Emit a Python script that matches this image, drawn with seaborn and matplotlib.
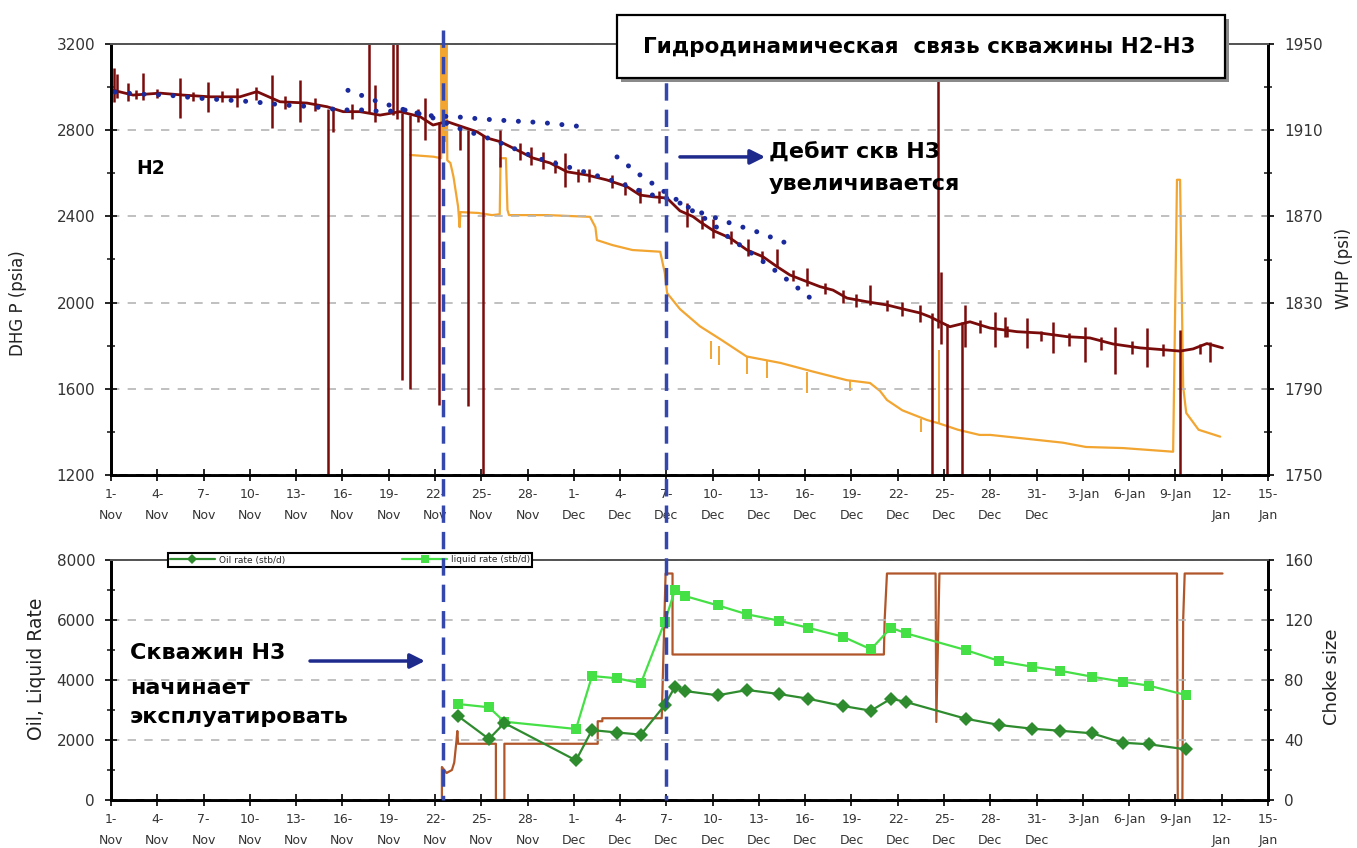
import matplotlib
matplotlib.use("Agg")
import matplotlib.pyplot as plt
import matplotlib.transforms as mtransforms
from matplotlib.lines import Line2D
from matplotlib.patches import Rectangle
import seaborn as sns

# ---------------- time axis (days since 1-Nov) ----------------
tick_days = list(range(0, 76, 3))
tick_labels = ["1-\nNov", "4-\nNov", "7-\nNov", "10-\nNov", "13-\nNov", "16-\nNov",
               "19-\nNov", "22-\nNov", "25-\nNov", "28-\nNov", "1-\nDec", "4-\nDec",
               "7-\nDec", "10-\nDec", "13-\nDec", "16-\nDec", "19-\nDec", "22-\nDec",
               "25-\nDec", "28-\nDec", "31-\nDec", "3-Jan", "6-Jan", "9-Jan",
               "12-\nJan", "15-\nJan"]

# ---------------- H2 downhole gauge pressure (psia) ----------------
dhg_day = [0.05, 1.43, 3.18, 4.67, 6.42, 8.36, 9.46, 10.95, 12.7, 14.0, 15.05, 16.14,
           17.44, 18.73, 20.03, 20.87, 21.78, 22.43, 23.72, 24.37, 25.22, 26.32, 27.35,
           28.46, 29.56, 30.86, 32.15, 33.45, 34.29, 35.13, 36.04, 36.88, 37.73, 38.18,
           39.02, 40.12, 41.23, 42.26, 43.17, 44.01, 45.12, 45.96, 46.8, 47.71, 49.0,
           50.3, 51.6, 52.44, 53.09, 54.38, 55.68, 56.98, 58.73, 60.22, 61.97, 63.46,
           64.95, 66.7, 68.45, 69.3, 70.14, 71.04, 72.05]
dhg_psia = [2987, 2963, 2972, 2963, 2955, 2955, 2979, 2932, 2926, 2909, 2886, 2886,
            2870, 2886, 2863, 2824, 2840, 2824, 2793, 2764, 2747, 2708, 2671, 2648,
            2607, 2592, 2569, 2538, 2499, 2491, 2485, 2426, 2399, 2375, 2335, 2300,
            2244, 2213, 2167, 2128, 2097, 2074, 2058, 2021, 2004, 1989, 1966, 1952,
            1934, 1888, 1911, 1882, 1865, 1859, 1842, 1836, 1808, 1790, 1780, 1775,
            1785, 1810, 1790]
# short gauge excursions: day, low, high (psia)
dhg_spike_day = [0.19, 0.39, 1.1, 1.6, 2.07, 3.0, 4.47, 5.3, 6.29, 7.2, 8.17, 9.4,
                 10.44, 11.3, 12.25, 13.2, 14.07, 14.39, 15.6, 16.72, 17.11, 18.28,
                 18.54, 18.86, 19.38, 19.9, 20.35, 21.26, 22.62, 23.14, 24.11, 25.22,
                 26.5, 27.2, 28.0, 28.8, 29.43, 30.3, 31.0, 32.5, 33.3, 34.29, 35.5,
                 37.34, 38.3, 39.02, 40.2, 41.29, 42.2, 43.17, 44.2, 45.12, 46.3,
                 47.45, 48.3, 49.2, 50.3, 51.27, 52.44, 53.22, 53.61, 53.8, 54.19,
                 55.16, 55.36, 56.3, 57.3, 57.95, 58.1, 59.38, 60.3, 61.06, 62.1,
                 63.14, 64.2, 65.08, 66.2, 67.16, 68.2, 69.31, 70.6, 71.24]
dhg_spike_low = [2930, 2950, 2935, 2945, 2940, 2950, 2857, 2935, 2884, 2930, 2908,
                 2940, 2810, 2900, 2838, 2890, 1200, 2792, 2850, 2880, 2840, 2870,
                 2850, 1640, 1600, 2840, 2755, 1525, 2708, 1520, 1200, 2629,
                 2660, 2640, 2620, 2600, 2536, 2560, 2560, 2530, 2500, 2460, 2460,
                 2350, 2340, 2300, 2270, 2218, 2190, 2165, 2100, 2075, 2040,
                 2000, 1980, 1990, 1960, 1940, 1910, 1200, 1880, 1810, 1200,
                 1200, 1796, 1860, 1796, 1840, 1840, 1791, 1820, 1768, 1800,
                 1726, 1780, 1670, 1760, 1703, 1750, 1200, 1760, 1724]
dhg_spike_high = [3090, 3060, 3020, 2985, 3065, 2990, 3042, 2975, 3024, 2980, 2996,
                  3000, 3056, 2960, 3033, 2950, 2900, 2908, 2920, 3200, 3010, 3200,
                  3200, 2880, 2870, 2900, 2950, 2840, 2815, 2800, 2780, 2800,
                  2740, 2720, 2700, 2660, 2694, 2620, 2620, 2590, 2560, 2530, 2520,
                  2460, 2400, 2390, 2330, 2296, 2240, 2250, 2150, 2160, 2090,
                  2060, 2040, 2080, 2010, 2005, 1990, 1950, 3150, 2140, 1900,
                  1910, 1990, 1920, 1957, 1933, 1890, 1929, 1870, 1910, 1860,
                  1887, 1840, 1887, 1820, 1882, 1810, 1875, 1810, 1817]

# ---------------- pressure trend dots (psia) ----------------
trend_a_day = [0.26, 1.69, 3.63, 5.57, 7.52, 9.2, 11.15, 13.1, 14.84, 16.6, 17.6, 19.2,
               20.87, 22.49, 24.37, 25.86, 27.6, 29.56, 31.37, 33.0, 34.8, 36.56,
               38.96, 39.65, 41.23, 42.72, 44.2, 45.63]
trend_a_psia = [2977, 2968, 2963, 2949, 2940, 2932, 2917, 2909, 2894, 2894, 2886, 2894,
                2857, 2810, 2765, 2723, 2671, 2631, 2592, 2555, 2504, 2476,
                2370, 2323, 2244, 2167, 2086, 2004]
trend_b_day = [15.36, 16.3, 17.2, 18.1, 19.0, 20.5, 22.4, 24.0, 26.0, 28.0, 30.73]
trend_b_psia = [2985, 2960, 2935, 2915, 2895, 2868, 2862, 2852, 2843, 2835, 2815]
trend_c_day = [32.8, 34.3, 35.9, 37.5, 38.3, 40.1, 41.9, 43.6, 44.47]
trend_c_psia = [2676, 2592, 2513, 2439, 2416, 2370, 2328, 2281, 2258]

# ---------------- wellhead pressure (psi) ----------------
whp_day = [19.4, 20.9, 21.4, 21.42, 21.5, 21.58, 21.66, 21.74, 21.8, 22.0, 22.2, 22.5,
           22.6, 22.65, 23.8, 24.7, 25.2, 25.25, 25.6, 25.7, 25.8, 28.3, 31.05, 31.4,
           31.5, 32.5, 33.8, 35.6, 35.9, 36.05, 36.88, 38.18, 39.5, 41.2, 43.4, 45.5,
           47.7, 49.2, 49.85, 50.3, 51.3, 52.9, 53.65, 54.9, 56.3, 57.0, 59.1, 61.7,
           63.2, 65.6, 68.85, 69.1, 69.3, 69.5, 69.7, 70.5, 71.9]
whp_psi = [1898.5, 1897.7, 1897, 1950, 1905, 1950, 1905, 1950, 1896, 1894.8, 1888.4,
           1874.5, 1865, 1872, 1871.6, 1870.6, 1871, 1897, 1897, 1873, 1870.6, 1870.6,
           1869.8, 1865, 1859, 1856.7, 1854.4, 1853.6, 1843.7, 1834.4, 1827, 1819,
           1813, 1805, 1802, 1798, 1794, 1792.7, 1789, 1784.8, 1780, 1775.5, 1774,
           1771, 1768.6, 1768.6, 1767, 1765, 1763, 1762.5, 1760.8, 1887, 1887, 1791,
           1778.8, 1771, 1767.8]
whp_spike_day = [38.9, 39.4, 41.2, 42.5, 45.1, 47.9, 52.5, 53.65]
whp_spike_low = [1804, 1801, 1797, 1795, 1788, 1789, 1770, 1774]
whp_spike_high = [1812, 1810, 1805, 1803, 1798, 1794, 1776, 1808]

# ---------------- H3 rates (stb/d) ----------------
rate_day = [22.49, 24.5, 25.5, 30.14, 31.18, 32.8, 34.35, 35.9, 36.56, 37.2, 39.32,
            41.23, 43.3, 45.18, 47.45, 49.26, 50.56, 51.53, 55.4, 57.58, 59.7, 61.5,
            63.6, 65.57, 67.29, 69.66]
oil_rate = [2800, 2033, 2567, 1320, 2330, 2250, 2180, 3167, 3777, 3633, 3490,
            3667, 3533, 3377, 3133, 2977, 3377, 3267, 2710, 2500, 2377, 2310,
            2223, 1910, 1857, 1690]
liquid_rate = [3200, 3090, 2610, 2367, 4133, 4057, 3890, 5943, 7000, 6800, 6490,
               6190, 5977, 5743, 5443, 5023, 5743, 5557, 5000, 4633, 4443, 4310,
               4110, 3943, 3810, 3500]

# ---------------- H3 choke size ----------------
choke_day = [21.45, 21.45, 21.75, 22.1, 22.25, 22.4, 22.45, 22.5, 24.95, 24.95, 25.5,
             25.5, 31.55, 31.55, 31.85, 31.85, 35.7, 35.95, 36.4, 36.4, 50.1, 50.15,
             50.3, 53.45, 53.5, 53.7, 69.1, 69.15, 69.45, 69.5, 69.6, 72.05]
choke_size = [0, 22, 18, 20, 25, 40, 46, 37.5, 37.5, 0, 0, 37.5, 37.5, 52.5, 52.5,
              54.5, 54.5, 151, 151, 97, 97, 120, 151, 151, 52, 151, 151, 0, 0, 120,
              151, 151]

event_days = [21.5, 35.97]

title_text = "Гидродинамическая  связь скважины Н2-Н3"
note_top = ["Дебит скв Н3", "увеличивается"]
note_bottom = ["Скважин Н3", "начинает", "эксплуатировать"]

# ---------------- styling ----------------
sns.set_theme(style="ticks")
plt.rcParams["font.family"] = ["DejaVu Sans"]

W, H = 1357, 848
fig = plt.figure(figsize=(W / 100, H / 100), dpi=100)
fig.patch.set_facecolor("white")


def fx(p):
    return p / W


def fy(p):
    return 1 - p / H


ax1 = fig.add_axes([fx(111), fy(475), fx(1268) - fx(111), fy(44) - fy(475)])
ax2 = fig.add_axes([fx(111), fy(800), fx(1268) - fx(111), fy(560) - fy(800)])
ax1r = ax1.twinx()
ax2r = ax2.twinx()
for a, ar in ((ax1, ax1r), (ax2, ax2r)):
    a.set_zorder(ar.get_zorder() + 1)
    a.patch.set_visible(False)

RED = "#7a0b0b"
ORANGE = "#f2a531"
NAVY = "#1a2a9c"
CHOKE = "#b0562a"
OIL = "#2e8b2e"
LIQ = "#45e045"

# --- top panel ---
sns.lineplot(x=whp_day, y=whp_psi, ax=ax1r, color=ORANGE, linewidth=1.6,
             estimator=None, sort=False)
ax1r.vlines(whp_spike_day, whp_spike_low, whp_spike_high, color=ORANGE, linewidth=1.4)

ax1.vlines(dhg_spike_day, dhg_spike_low, dhg_spike_high, color=RED, linewidth=1.8)
sns.lineplot(x=dhg_day, y=dhg_psia, ax=ax1, color=RED, linewidth=2.0,
             estimator=None, sort=False)
for d, v in ((trend_a_day, trend_a_psia), (trend_b_day, trend_b_psia),
             (trend_c_day, trend_c_psia)):
    sns.lineplot(x=d, y=v, ax=ax1, color=NAVY, linewidth=3.6,
                 linestyle=(0, (0.01, 2.9)), dash_capstyle="round",
                 estimator=None, sort=False)

ax1.set_xlim(0, 75)
ax1.set_ylim(1200, 3200)
ax1.set_yticks(range(1200, 3201, 400))
ax1.set_yticks(range(1400, 3200, 400), minor=True)
ax1r.set_ylim(1750, 1950)
ax1r.set_yticks(range(1750, 1951, 40))
ax1r.set_yticks(range(1770, 1950, 40), minor=True)

# --- bottom panel ---
sns.lineplot(x=choke_day, y=choke_size, ax=ax2r, color=CHOKE, linewidth=1.6,
             estimator=None, sort=False)
sns.lineplot(x=rate_day, y=liquid_rate, ax=ax2, color=LIQ, linewidth=1.6,
             marker="s", markersize=7, markeredgewidth=0, estimator=None, sort=False,
             label="liquid rate (stb/d)", legend=False)
sns.lineplot(x=rate_day, y=oil_rate, ax=ax2, color=OIL, linewidth=1.6,
             marker="D", markersize=7, markeredgewidth=0, estimator=None, sort=False,
             label="Oil rate (stb/d)", legend=False)

ax2.set_xlim(0, 75)
ax2.set_ylim(0, 8000)
ax2.set_yticks(range(0, 8001, 2000))
ax2.set_yticks(range(1000, 8000, 2000), minor=True)
ax2r.set_ylim(0, 160)
ax2r.set_yticks(range(0, 161, 40))
ax2r.set_yticks(range(20, 160, 40), minor=True)

for a in (ax1, ax2):
    a.set_xticks(tick_days, tick_labels)
    a.yaxis.grid(True, which="major", linestyle=(0, (5, 5)), color="#b5b5b5",
                 linewidth=1.2)
    a.xaxis.grid(False)
    a.set_xlabel("")
    a.set_ylabel("")
    a.tick_params(axis="x", direction="inout", length=9, width=1.4, pad=5,
                  labelsize=9, labelcolor="#333333")
    for t in a.get_xticklabels():
        t.set_linespacing(1.75)
for a in (ax1, ax2, ax1r, ax2r):
    a.tick_params(axis="y", which="major", direction="inout", length=9, width=1.4,
                  pad=7, labelsize=11, labelcolor="#333333")
    a.tick_params(axis="y", which="minor", direction="inout", length=6, width=1.2)
    a.set_ylabel("")
    for s in ("left", "right", "bottom"):
        a.spines[s].set_linewidth(2.0)
        a.spines[s].set_color("black")
    a.spines["top"].set_linewidth(1.4)
    a.spines["top"].set_color("#555555")

# legend straddling the top of the rate panel
h, l = ax2.get_legend_handles_labels()
order = [l.index("Oil rate (stb/d)"), l.index("liquid rate (stb/d)")]
leg = ax2.legend([h[i] for i in order], [l[i] for i in order], loc="center",
                 bbox_to_anchor=(fx(350), fy(560)), bbox_transform=fig.transFigure,
                 ncol=2, fontsize=6.5, frameon=True, fancybox=False,
                 edgecolor="black", framealpha=1, borderpad=0.25,
                 columnspacing=13, handlelength=5, handletextpad=0.4,
                 markerscale=0.8)
leg.get_frame().set_linewidth(1.5)
leg.set_zorder(20)

# axis titles
fig.text(fx(18), fy(303), "DHG P (psia)", rotation=90, ha="center", va="center",
         fontsize=12, color="#222222")
fig.text(fx(1344), fy(268), "WHP (psi)", rotation=90, ha="center", va="center",
         fontsize=12, color="#222222")
fig.text(fx(36), fy(669), "Oil, Liquid Rate", rotation=90, ha="center", va="center",
         fontsize=13.5, color="#222222")
fig.text(fx(1332), fy(677), "Choke size", rotation=90, ha="center", va="center",
         fontsize=13, color="#222222")

# event markers spanning both panels
blend = mtransforms.blended_transform_factory(ax1.transData, fig.transFigure)
for d in event_days:
    fig.add_artist(Line2D([d, d], [fy(30), fy(800)], transform=blend, color="#3447ad",
                          linewidth=2.5, linestyle=(0, (5, 2.6)), zorder=5))

# title box with shadow
bx0, bx1, by0, by1 = 617, 1225, 15, 78
fig.add_artist(Rectangle((fx(bx0 + 4), fy(by1 + 4)), fx(bx1) - fx(bx0),
                         fy(by0) - fy(by1), transform=fig.transFigure,
                         facecolor="#8a8a8a", edgecolor="none", zorder=9))
fig.add_artist(Rectangle((fx(bx0), fy(by1)), fx(bx1) - fx(bx0), fy(by0) - fy(by1),
                         transform=fig.transFigure, facecolor="white",
                         edgecolor="black", linewidth=1.6, zorder=10))
fig.text(fx(919), fy(47), title_text, ha="center", va="center", fontsize=15.5,
         fontweight="bold", color="black", zorder=11)

# annotations
fig.text(fx(136), fy(168), "H2", ha="left", va="center", fontsize=13.5,
         fontweight="bold", color="black", zorder=11)
for i, s in enumerate(note_top):
    fig.text(fx(769), fy(153 + 31 * i), s, ha="left", va="center", fontsize=16,
             fontweight="bold", color="black", zorder=11)
for s, yy in zip(note_bottom, (653, 688, 717)):
    fig.text(fx(130), fy(yy), s, ha="left", va="center", fontsize=16,
             fontweight="bold", color="black", zorder=11)

arrow = dict(arrowstyle="-|>", color="#1e2a8c", lw=2.5, mutation_scale=22,
             shrinkA=0, shrinkB=0)
ax1.annotate("", xy=(42.4, 2676), xytext=(36.88, 2676), arrowprops=arrow)
ax2.annotate("", xy=(20.35, 4633), xytext=(12.9, 4633), arrowprops=arrow)

fig.savefig("out.png", dpi=100, facecolor="white")
